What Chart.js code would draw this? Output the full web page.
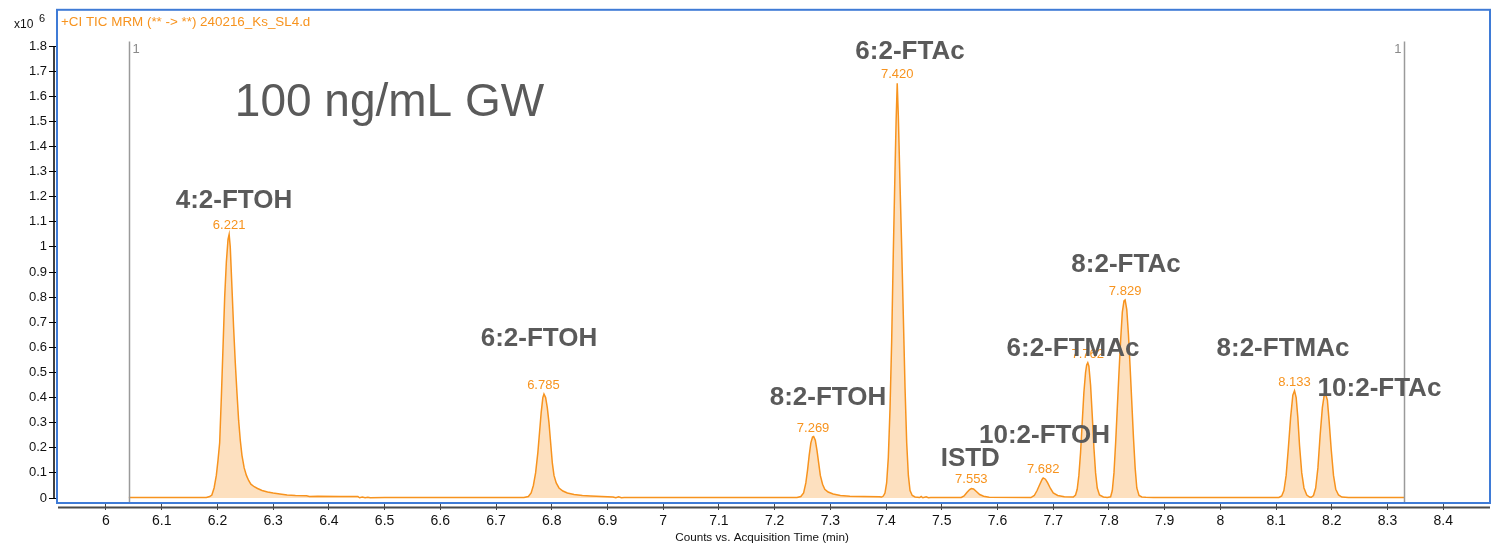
<!DOCTYPE html>
<html>
<head>
<meta charset="utf-8">
<script src="https://cdn.jsdelivr.net/npm/chart.js@4/dist/chart.umd.min.js"></script>
<style>
html,body{margin:0;padding:0;background:#fff;overflow:hidden;}
canvas{display:block;}
</style>
</head>
<body>
<canvas id="c" width="1491" height="546"></canvas>
<script>
// ---- Data (intensity in units of 10^6 counts) ----
const rtMinutes = [
6.041,6.180,6.186,6.190,6.194,6.198,6.201,6.204,6.207,6.210,6.213,6.216,6.219,6.221,6.223,6.226,6.229,6.232,6.235,6.238,6.241,6.244,6.248,6.252,6.256,6.260,6.266,6.272,6.280,6.290,6.300,6.312,6.325,6.340,6.360,6.365,6.380,6.420,6.452,6.455,6.460,6.465,6.470,6.474,6.500,
6.750,6.758,6.763,6.767,6.771,6.775,6.778,6.781,6.784,6.786,6.789,6.792,6.795,6.798,6.801,6.804,6.808,6.813,6.820,6.828,6.840,6.855,6.870,6.890,6.910,6.915,6.920,6.925,6.930,
7.240,7.247,7.252,7.256,7.259,7.262,7.265,7.268,7.270,7.273,7.276,7.279,7.282,7.286,7.290,7.296,7.305,7.318,7.335,7.360,7.388,
7.392,7.395,7.398,7.401,7.404,7.407,7.410,7.413,7.416,7.418,7.420,7.422,7.425,7.428,7.431,7.434,7.437,7.440,7.443,7.447,7.452,7.460,7.463,7.466,7.472,7.476,7.480,
7.535,7.540,7.545,7.550,7.553,7.557,7.562,7.568,7.575,7.585,
7.660,7.666,7.671,7.676,7.680,7.682,7.686,7.690,7.695,7.700,7.708,7.720,
7.736,7.740,7.743,7.746,7.749,7.752,7.755,7.758,7.760,7.762,7.764,7.767,7.770,7.773,7.776,7.779,7.783,7.790,7.797,
7.803,7.806,7.809,7.812,7.815,7.818,7.821,7.824,7.827,7.829,7.832,7.835,7.838,7.841,7.844,7.847,7.850,7.854,7.859,7.866,7.880,
8.105,8.110,8.114,8.118,8.122,8.126,8.130,8.133,8.136,8.139,8.142,8.146,8.150,8.155,8.160,8.163,8.167,8.171,8.175,8.179,8.183,8.186,8.189,8.192,8.195,8.199,8.203,8.207,8.212,8.218,8.230,8.330
];
const countsE6 = [
0.002,0.002,0.006,0.012,0.040,0.090,0.150,0.220,0.400,0.600,0.800,0.940,1.030,1.050,1.000,0.840,0.680,0.540,0.420,0.310,0.230,0.170,0.120,0.090,0.070,0.055,0.045,0.038,0.030,0.024,0.020,0.016,0.012,0.010,0.009,0.006,0.007,0.006,0.006,0.001,0.004,0.001,0.003,0.001,0.002,
0.002,0.006,0.020,0.050,0.100,0.180,0.260,0.340,0.400,0.414,0.400,0.360,0.300,0.220,0.140,0.090,0.060,0.040,0.028,0.020,0.014,0.010,0.008,0.006,0.004,0.001,0.005,0.001,0.002,
0.002,0.006,0.020,0.060,0.110,0.170,0.220,0.243,0.245,0.230,0.190,0.140,0.090,0.055,0.035,0.024,0.016,0.010,0.007,0.006,0.005,
0.004,0.008,0.020,0.060,0.160,0.350,0.620,0.980,1.300,1.500,1.652,1.520,1.250,1.000,0.720,0.440,0.220,0.090,0.030,0.010,0.004,0.002,0.006,0.001,0.005,0.001,0.002,
0.002,0.008,0.022,0.034,0.038,0.036,0.026,0.014,0.007,0.003,
0.002,0.010,0.030,0.055,0.074,0.080,0.075,0.060,0.038,0.020,0.010,0.005,
0.004,0.012,0.035,0.090,0.180,0.300,0.420,0.500,0.530,0.539,0.525,0.450,0.330,0.200,0.100,0.040,0.012,0.004,0.002,
0.005,0.030,0.100,0.220,0.360,0.500,0.630,0.740,0.785,0.789,0.750,0.650,0.520,0.380,0.240,0.120,0.040,0.010,0.004,0.003,0.002,
0.002,0.008,0.030,0.090,0.200,0.320,0.410,0.427,0.400,0.320,0.210,0.100,0.040,0.012,0.004,0.003,0.010,0.040,0.120,0.250,0.360,0.405,0.412,0.390,0.310,0.190,0.090,0.035,0.012,0.004,0.002,0.002
];
const peakRTs = [6.221, 6.785, 7.269, 7.420, 7.553, 7.682, 7.762, 7.829, 8.133];
const compoundNames = ["4:2-FTOH","6:2-FTOH","8:2-FTOH","6:2-FTAc","ISTD","10:2-FTOH","6:2-FTMAc","8:2-FTAc","8:2-FTMAc","10:2-FTAc"];
const compoundLabelRT = [6.2297, 6.7771, 7.2958, 7.4429, 7.5511, 7.6843, 7.7354, 7.8306, 8.1123, 8.2855];
const compoundLabelY = [1.192, 0.6435, 0.4066, 1.7864, 0.1658, 0.2566, 0.604, 0.9357, 0.6017, 0.4422];
const xTickValues = [6.0,6.1,6.2,6.3,6.4,6.5,6.6,6.7,6.8,6.9,7.0,7.1,7.2,7.3,7.4,7.5,7.6,7.7,7.8,7.9,8.0,8.1,8.2,8.3,8.4];
const yTickValues = [0,0.1,0.2,0.3,0.4,0.5,0.6,0.7,0.8,0.9,1.0,1.1,1.2,1.3,1.4,1.5,1.6,1.7,1.8];
const markerRTs = [6.041, 8.3295];
const sampleTitle = "100 ng/mL GW";
const traceTitle = "+CI TIC MRM (** -> **) 240216_Ks_SL4.d";
const xAxisTitle = "Counts vs. Acquisition Time (min)";

const FONT = "'Liberation Sans', Arial, sans-serif";
const ORANGE = "#f7931e";
const LABEL_GRAY = "#5a5a5a";

function fmt(v){ return String(Math.round(v*10)/10); }

const decor = {
  id: 'decor',
  afterDatasetsDraw(chart){
    const ctx = chart.ctx, xs = chart.scales.x, ys = chart.scales.y, ca = chart.chartArea;
    ctx.save();
    // integration marker lines
    ctx.strokeStyle = "#9a9a9a"; ctx.lineWidth = 1.5;
    ctx.fillStyle = "#8a8a8a"; ctx.font = "13px " + FONT; ctx.textBaseline = "alphabetic";
    markerRTs.forEach((t,i)=>{
      const px = Math.round(xs.getPixelForValue(t)) + 0.5;
      const top = ys.getPixelForValue(1.818);
      ctx.beginPath(); ctx.moveTo(px, top); ctx.lineTo(px, ca.bottom); ctx.stroke();
      ctx.textAlign = i === 0 ? "left" : "right";
      ctx.fillText("1", i === 0 ? px + 3 : px - 3, top + 12);
    });
    // retention time labels
    ctx.fillStyle = ORANGE; ctx.font = "13px " + FONT; ctx.textAlign = "center";
    peakRTs.forEach(rt=>{
      let best = 0;
      rtMinutes.forEach((t,i)=>{ if (Math.abs(t-rt) < 0.006 && countsE6[i] > best){ best = countsE6[i]; } });
      ctx.fillText(rt.toFixed(3), xs.getPixelForValue(rt), ys.getPixelForValue(best) - 5);
    });
    // compound labels
    ctx.fillStyle = LABEL_GRAY; ctx.font = "bold 26px " + FONT;
    compoundNames.forEach((n,i)=>{
      ctx.fillText(n, xs.getPixelForValue(compoundLabelRT[i]), ys.getPixelForValue(compoundLabelY[i]) + 26*0.358);
    });
    // sample title
    ctx.font = "46px " + FONT;
    ctx.fillText(sampleTitle, xs.getPixelForValue(6.5088), ys.getPixelForValue(1.585) + 46*0.358);
    ctx.restore();
  },
  afterDraw(chart){
    const ctx = chart.ctx, ca = chart.chartArea, ys = chart.scales.y;
    ctx.save();
    // x axis line
    ctx.strokeStyle = "#4a4a4a"; ctx.lineWidth = 2;
    ctx.beginPath(); ctx.moveTo(ca.left + 1, ca.bottom + 4.5); ctx.lineTo(ca.right, ca.bottom + 4.5); ctx.stroke();
    // y axis line
    ctx.strokeStyle = "#000"; ctx.lineWidth = 1.5;
    ctx.beginPath(); ctx.moveTo(ca.left - 3, ys.getPixelForValue(1.8)); ctx.lineTo(ca.left - 3, ys.getPixelForValue(0) + 1); ctx.stroke();
    // blue frame
    ctx.strokeStyle = "#3f7bd6"; ctx.lineWidth = 2;
    ctx.strokeRect(ca.left, ca.top, ca.right - ca.left, ca.bottom - ca.top);
    // header texts
    ctx.fillStyle = ORANGE; ctx.font = "13.4px " + FONT; ctx.textAlign = "left"; ctx.textBaseline = "alphabetic";
    ctx.fillText(traceTitle, ca.left + 4, 26);
    ctx.fillStyle = "#111"; ctx.font = "12px " + FONT;
    ctx.fillText("x10", 14, 28);
    ctx.font = "11px " + FONT;
    ctx.fillText("6", 39, 22);
    // x axis title
    ctx.font = "11.7px " + FONT; ctx.textAlign = "center";
    ctx.fillText(xAxisTitle, 762, 541);
    ctx.restore();
  }
};

new Chart(document.getElementById('c'), {
  type: 'line',
  data: {
    datasets: [{
      data: rtMinutes.map((t,i)=>({x:t, y:countsE6[i]})),
      borderColor: ORANGE,
      borderWidth: 1.5,
      backgroundColor: "#fde0bf",
      fill: 'origin',
      pointRadius: 0,
      tension: 0
    }]
  },
  options: {
    responsive: false,
    animation: false,
    devicePixelRatio: 1,
    parsing: false,
    layout: { padding: { top: 6, right: 1, left: 0, bottom: 0 } },
    plugins: { legend: { display: false }, tooltip: { enabled: false } },
    scales: {
      x: {
        type: 'linear',
        min: 5.91206, max: 8.48386,
        afterFit(s){ s.height = 43; },
        afterBuildTicks(s){ s.ticks = xTickValues.map(v=>({value:v})); },
        grid: { drawOnChartArea: false, drawTicks: true, tickLength: 7, color: "#444" },
        border: { display: false },
        ticks: { autoSkip: false, maxRotation: 0, padding: 3, color: "#111",
                 font: { family: FONT, size: 14 }, callback: v => fmt(v) }
      },
      y: {
        type: 'linear',
        min: -0.0198, max: 1.9442,
        afterFit(s){ s.width = 57; },
        afterBuildTicks(s){ s.ticks = yTickValues.map(v=>({value:v})); },
        grid: { drawOnChartArea: false, drawTicks: true, tickLength: 8, color: "#000" },
        border: { display: false },
        ticks: { autoSkip: false, padding: 2, color: "#111",
                 font: { family: FONT, size: 13 }, callback: v => fmt(v) }
      }
    }
  },
  plugins: [decor]
});
</script>
</body>
</html>
